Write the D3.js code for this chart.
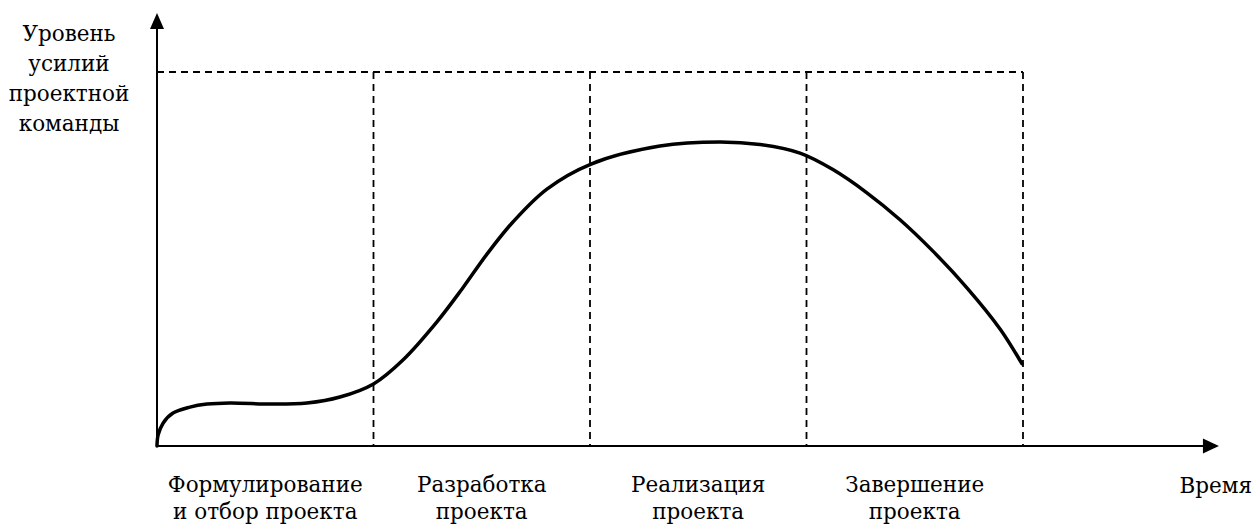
<!DOCTYPE html>
<html>
<head>
<meta charset="utf-8">
<script src="https://d3js.org/d3.v7.min.js"></script>
<style>
  body { margin: 0; background: #fff; }
</style>
</head>
<body>
<div id="chart"></div>
<script>

// stages along the time axis (each stage = 1 unit)
var stages = [
  ["Формулирование", "и отбор проекта"],
  ["Разработка", "проекта"],
  ["Реализация", "проекта"],
  ["Завершение", "проекта"]
];
var yLabel = ["Уровень", "усилий", "проектной", "команды"];
var xLabel = "Время";

// effort curve: time (stage units) and effort level (1 = max level)
var curveT = [0, 0.005, 0.028, 0.074, 0.152, 0.231, 0.337, 0.536, 0.693, 0.845, 1.0,
              1.136, 1.293, 1.409, 1.524, 1.644, 1.801, 2.005, 2.323, 2.6, 2.785,
              2.97, 3.122, 3.279, 3.432, 3.584, 3.741, 3.894, 3.995];
var curveV = [0, 0.029, 0.061, 0.088, 0.104, 0.112, 0.115, 0.112, 0.115, 0.131, 0.166,
              0.23, 0.332, 0.42, 0.513, 0.599, 0.687, 0.754, 0.802, 0.813, 0.806,
              0.783, 0.739, 0.677, 0.605, 0.521, 0.423, 0.313, 0.22];
var maxLevel = 1;

var W = 1258, H = 526;
// only serif face available in the sandbox
var serif = "DejaVu Serif, serif";
var fsize = 21.5;

var svg = d3.select("#chart")
  .append("svg")
  .attr("width", W)
  .attr("height", H);

var x = d3.scaleLinear().domain([0, 4]).range([157, 1023]);
var y = d3.scaleLinear().domain([0, 1]).range([446, 72]);

var xEnd = x(4.905), yEnd = y(1.158);

// dashed guides
var dash = svg.append("g")
  .attr("stroke", "#000")
  .attr("stroke-width", 1.8)
  .attr("stroke-dasharray", "7,5")
  .attr("fill", "none");

dash.append("line")
  .attr("x1", x(0)).attr("x2", x(4))
  .attr("y1", y(maxLevel)).attr("y2", y(maxLevel));

dash.selectAll(".vline")
  .data(d3.range(1, 5))
  .enter()
  .append("line")
  .attr("class", "vline")
  .attr("x1", function(d) { return x(d); })
  .attr("x2", function(d) { return x(d); })
  .attr("y1", y(maxLevel))
  .attr("y2", y(0));

// axes with arrow heads
svg.append("line")
  .attr("x1", x(0)).attr("y1", y(0))
  .attr("x2", x(0)).attr("y2", yEnd + 12)
  .attr("stroke", "#000").attr("stroke-width", 2);
svg.append("line")
  .attr("x1", x(0)).attr("y1", y(0))
  .attr("x2", xEnd - 12).attr("y2", y(0))
  .attr("stroke", "#000").attr("stroke-width", 2);

svg.append("path")
  .attr("d", "M" + x(0) + "," + yEnd + " L" + (x(0) - 7) + "," + (yEnd + 16) + " L" + (x(0) + 7) + "," + (yEnd + 16) + " Z")
  .attr("fill", "#000");
svg.append("path")
  .attr("d", "M" + xEnd + "," + y(0) + " L" + (xEnd - 16) + "," + (y(0) - 7.5) + " L" + (xEnd - 16) + "," + (y(0) + 7.5) + " Z")
  .attr("fill", "#000");

// effort curve
var pts = curveT.map(function(t, i) { return [t, curveV[i]]; });
var line = d3.line()
  .x(function(d) { return x(d[0]); })
  .y(function(d) { return y(d[1]); })
  .curve(d3.curveCatmullRom.alpha(0.5));

svg.append("path")
  .datum(pts)
  .attr("d", line)
  .attr("fill", "none")
  .attr("stroke", "#000")
  .attr("stroke-width", 3.5)
  .attr("stroke-linecap", "round")
  .attr("stroke-linejoin", "round");

// y axis title
svg.append("text")
  .attr("x", 69)
  .attr("y", 41)
  .attr("text-anchor", "middle")
  .attr("font-family", serif)
  .attr("font-size", fsize)
  .selectAll("tspan")
  .data(yLabel)
  .enter()
  .append("tspan")
  .attr("x", 69)
  .attr("dy", function(d, i) { return i == 0 ? 0 : 30; })
  .text(function(d) { return d; });

// stage labels
var st = svg.selectAll(".stage")
  .data(stages)
  .enter()
  .append("text")
  .attr("class", "stage")
  .attr("text-anchor", "middle")
  .attr("y", 492)
  .attr("font-family", serif)
  .attr("font-size", fsize);

st.selectAll("tspan")
  .data(function(d, i) { return d.map(function(s) { return {s: s, i: i}; }); })
  .enter()
  .append("tspan")
  .attr("x", function(d) { return x(d.i + 0.5); })
  .attr("dy", function(d, j) { return j == 0 ? 0 : 27; })
  .text(function(d) { return d.s; });

svg.append("text")
  .attr("x", 1252)
  .attr("y", 493)
  .attr("text-anchor", "end")
  .attr("font-family", serif)
  .attr("font-size", fsize)
  .text(xLabel);

</script>
</body>
</html>
